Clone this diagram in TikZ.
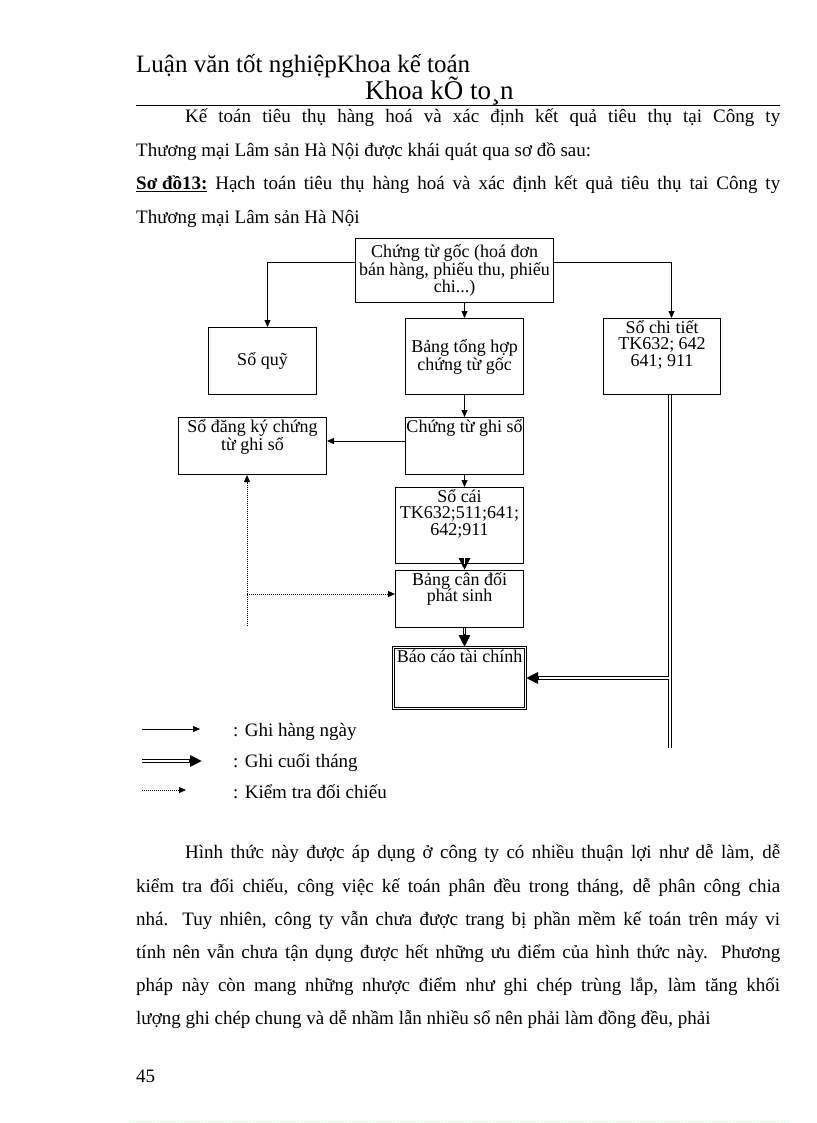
\documentclass[tikz,border=0pt]{standalone}
\usepackage{fontspec}
\setmainfont{Liberation Serif}
\usetikzlibrary{arrows.meta,positioning}
\newcommand{\bodyfont}{\fontsize{19}{22}\selectfont}
\newcommand{\diagfont}{\fontsize{18}{16.5}\selectfont}
\newcommand{\headfont}{\fontsize{25}{28}\selectfont}

\begin{document}
\begin{tikzpicture}[x=1pt, y=-1pt,
    txt/.style={anchor=base west, inner sep=0pt, font=\bodyfont},
    box/.style={draw, line width=1pt, anchor=north west, inner sep=0pt, font=\diagfont, align=center},
    boxtxt/.style={inner sep=0pt, font=\diagfont, align=center, anchor=north},
    arr/.style={-{Triangle[length=7pt,width=6pt]}, line width=0.8pt},
    dblarr/.style={line width=3.6pt, -{Triangle[length=12pt,width=11pt]}, postaction={draw=white, line width=1.2pt, -, shorten >=13pt}},
    dblline/.style={line width=3.6pt, postaction={draw=white, line width=1.2pt}},
    chk/.style={-{Triangle[length=7pt,width=6pt]}, line width=0.8pt, dash pattern=on 1pt off 1pt}
]
  \useasboundingbox (0,0) rectangle (816,1123);

  % page header
  \node[txt, font=\headfont] (hdr1) at (136,73) {Luận văn tốt nghiệpKhoa kế toán};
  \node[txt, font=\fontsize{27}{30}\selectfont] (hdr2) at (365,100) {Khoa kÕ to¸n};
  \draw[line width=0.8pt] (136,105) -- (780,105);

  % text above the diagram
  \node[txt] (intro1) at (185,123) {\makebox[595pt][s]{Kế toán tiêu thụ hàng hoá và xác định kết quả tiêu thụ tại Công ty}};
  \node[txt] (intro2) at (136,157) {Thương mại Lâm sản Hà Nội được khái quát qua sơ đồ sau:};
  \node[txt] (cap1) at (136,190) {\makebox[644pt][s]{\underline{\textbf{Sơ đồ13:}} Hạch toán tiêu thụ hàng hoá và xác định kết quả tiêu thụ tai Công ty}};
  \node[txt] (cap2) at (136,223) {Thương mại Lâm sản Hà Nội};

  % boxes
  \node[box, minimum width=198pt, minimum height=64pt] (goc) at (355,238) {Chứng từ gốc (hoá đơn\\bán hàng, phiếu thu, phiếu\\chi...)};
  \node[box, minimum width=108pt, minimum height=67pt] (soquy) at (208,327) {Sổ quỹ};
  \node[box, minimum width=118pt, minimum height=76pt] (bth) at (405,318) {Bảng tổng hợp\\chứng từ gốc};
  \node[box, minimum width=117pt, minimum height=76pt] (sct) at (603,318) {};
  \node[boxtxt, below=2pt of sct.north] (sct-t) {Sổ chi tiết\\TK632; 642\\641; 911};
  \node[box, minimum width=148pt, minimum height=57pt] (sodk) at (178,417) {};
  \node[boxtxt, below=2pt of sodk.north] (sodk-t) {Sổ đăng ký chứng\\từ ghi sổ};
  \node[box, minimum width=118pt, minimum height=57pt] (ctgs) at (405,417) {};
  \node[boxtxt, below=2pt of ctgs.north] (ctgs-t) {Chứng từ ghi sổ};
  \node[box, minimum width=128pt, minimum height=76pt] (socai) at (395,487) {};
  \node[boxtxt, below=2pt of socai.north] (socai-t) {Sổ cái\\TK632;511;641;\\642;911};
  \node[box, minimum width=128pt, minimum height=57pt] (bcd) at (395,570) {};
  \node[boxtxt, below=2pt of bcd.north] (bcd-t) {Bảng cân đối\\phát sinh};
  \node[box, double, double distance=1.6pt, minimum width=132pt, minimum height=61pt] (baocao) at (393,647) {};
  \node[boxtxt, below=3pt of baocao.north] (baocao-t) {Báo cáo tài chính};

  \coordinate (rend) at (670,748);
  \coordinate (chkend) at (247,626);
  \coordinate (bcdin) at ([yshift=5pt]bcd.west);

  % daily entries
  \draw[arr] ([yshift=8pt]goc.west) -| ([xshift=5pt]soquy.north);
  \draw[arr] ([yshift=8pt]goc.east) -| ([xshift=9.5pt]sct.north);
  \draw[arr] (goc.south -| bth.north) -- (bth.north);
  \draw[arr] (bth) -- (ctgs);
  \draw[arr] ([yshift=5pt]ctgs.west) -- ([yshift=5pt]sodk.east);
  \draw[arr] (ctgs.south) -- (ctgs.south |- socai.north);
  % month-end entries
  \draw[dblarr] (ctgs.south |- socai.south) -- (ctgs.south |- bcd.north);
  \draw[dblarr] (ctgs.south |- bcd.south) -- (ctgs.south |- baocao.north);
  \draw[dblline] (sct.south -| rend) -- (rend);
  \draw[dblarr] ([xshift=-1pt]rend |- baocao.east) -- (baocao.east);
  % checking
  \draw[chk] (chkend) -- (chkend |- sodk.south);
  \draw[chk] (chkend |- bcdin) -- (bcdin);

  % legend
  \coordinate (lg1a) at (142,729);
  \coordinate (lg1b) at (200,729);
  \coordinate (lg2a) at (142,761);
  \coordinate (lg2b) at (202,761);
  \coordinate (lg3a) at (142,790);
  \coordinate (lg3b) at (186,790);
  \draw[arr] (lg1a) -- (lg1b);
  \draw[dblarr] (lg2a) -- (lg2b);
  \draw[chk] (lg3a) -- (lg3b);
  \node[txt] (lg1) at (233,736) {: Ghi hàng ngày};
  \node[txt] (lg2) at (233,767) {: Ghi cuối tháng};
  \node[txt] (lg3) at (233,798) {: Kiểm tra đối chiếu};

  % text below the diagram
  \node[txt] (para1) at (185,858) {\makebox[595pt][s]{Hình thức này được áp dụng ở công ty có nhiều thuận lợi như dễ làm, dễ}};
  \node[txt] (para2) at (136,892) {\makebox[644pt][s]{kiểm tra đối chiếu, công việc kế toán phân đều trong tháng, dễ phân công chia}};
  \node[txt] (para3) at (136,925) {\makebox[644pt][s]{nhá. Tuy nhiên, công ty vẫn chưa được trang bị phần mềm kế toán trên máy vi}};
  \node[txt] (para4) at (136,958) {\makebox[644pt][s]{tính nên vẫn chưa tận dụng được hết những ưu điểm của hình thức này. Phương}};
  \node[txt] (para5) at (136,991) {\makebox[644pt][s]{pháp này còn mang những nhược điểm như ghi chép trùng lắp, làm tăng khối}};
  \node[txt] (para6) at (136,1024) {lượng ghi chép chung và dễ nhầm lẫn nhiều sổ nên phải làm đồng đều, phải};

  \node[txt] (pageno) at (136,1082) {45};
  \draw[green!40, line width=0.6pt, dash pattern=on 0.6pt off 2.4pt] (130,1121) -- (790,1121);
\end{tikzpicture}
\end{document}
